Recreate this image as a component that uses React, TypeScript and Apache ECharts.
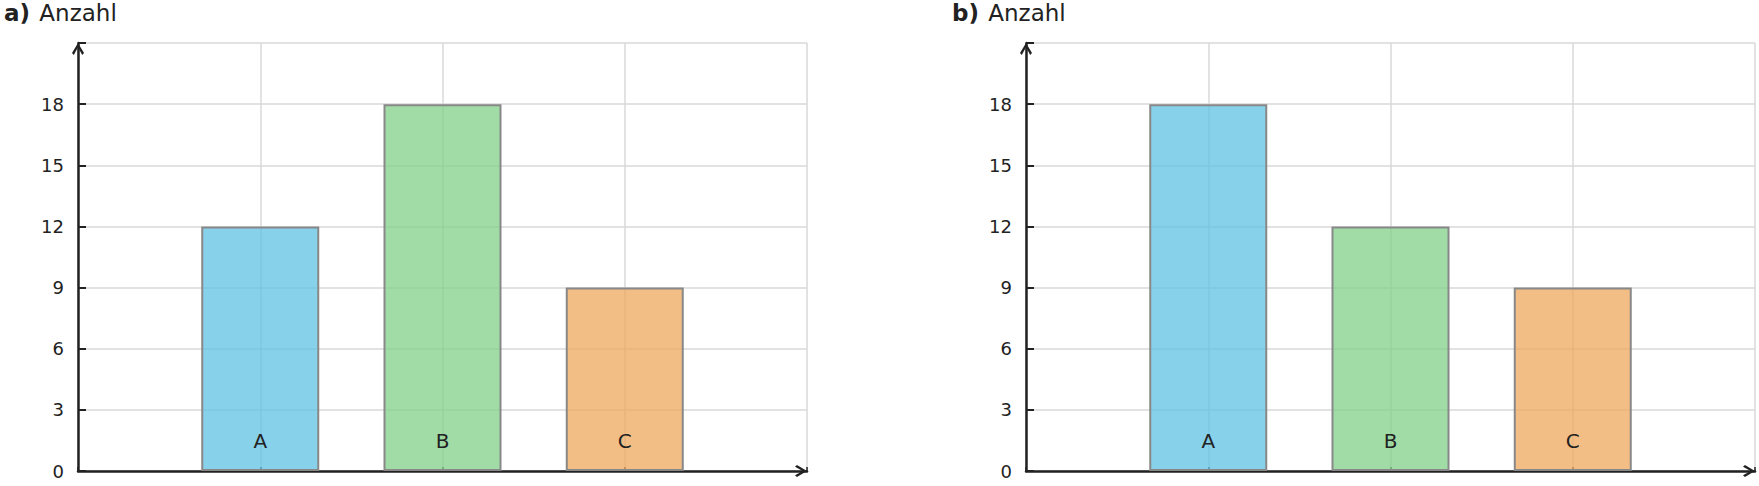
import React, { useEffect, useRef } from "react";
import * as echarts from "echarts";

const categories = ["A", "B", "C"];
const valuesA = [12, 18, 9];
const valuesB = [18, 12, 9];
const barColors = ["rgba(95,194,227,0.75)", "rgba(130,208,136,0.75)", "rgba(239,168,92,0.75)"];
const yTicks = { min: 0, max: 21, interval: 3 };
const panelLabels = ["a)", "b)"];
const yTitle = "Anzahl";

const FONT = "DejaVu Sans";
const DARK = "#222222";
const GRID = "#d8d8d8";
const CHEVRON = "path://M5,0 L10,8.4 L8.5,10 L5,3.6 L1.5,10 L0,8.4 Z";

function App() {
  const ref = useRef<HTMLDivElement>(null);
  useEffect(() => {
    if (!ref.current) return;
    const chart = echarts.init(ref.current, undefined, { renderer: "svg" });
    const grids = [
      { left: 78, top: 43, width: 729, bottom: 15 },
      { left: 1026, top: 43, width: 729, bottom: 15 },
    ];
    const sets = [valuesA, valuesB];
    const axisLine = {
      show: true,
      symbol: ["none", CHEVRON],
      symbolSize: [12, 12],
      symbolOffset: [0, -6],
      lineStyle: { color: DARK, width: 2.5 },
    };
    const xAxis = grids.map((_, i) => ({
      type: "value",
      gridIndex: i,
      min: 0,
      max: categories.length + 1,
      interval: 1,
      axisLine,
      axisTick: { show: true, inside: true, length: 4, lineStyle: { color: DARK, width: 1.5 } },
      axisLabel: { show: false },
      splitLine: { show: true, lineStyle: { color: GRID, width: 1.5 } },
    }));
    const yAxis = grids.map((_, i) => ({
      type: "value",
      gridIndex: i,
      min: yTicks.min,
      max: yTicks.max,
      interval: yTicks.interval,
      axisLine,
      axisTick: { show: true, inside: true, length: 8, lineStyle: { color: DARK, width: 2 } },
      axisLabel: {
        fontFamily: FONT,
        fontSize: 18,
        color: DARK,
        margin: 14,
        formatter: (v: number) => (v === yTicks.max ? "" : String(v)),
      },
      splitLine: { show: true, lineStyle: { color: GRID, width: 1.5 } },
    }));
    const series = sets.map((vals, i) => ({
      type: "bar",
      xAxisIndex: i,
      yAxisIndex: i,
      barWidth: 118,
      data: vals.map((v, j) => ({
        value: [j + 1, v],
        itemStyle: { color: barColors[j] },
      })),
      itemStyle: { borderColor: "#888888", borderWidth: 2 },
      label: {
        show: true,
        position: "insideBottom",
        distance: 20,
        fontFamily: FONT,
        fontSize: 20,
        color: DARK,
        formatter: (p: any) => categories[p.dataIndex],
      },
    }));
    const graphic = grids.map((g, i) => ({
      type: "text",
      left: g.left - 74,
      top: 1,
      style: {
        text: `{b|${panelLabels[i]}} {n|${yTitle}}`,
        font: `23px '${FONT}'`,
        fill: DARK,
        rich: {
          b: { fontFamily: FONT, fontSize: 23, fontWeight: "bold", fill: DARK, padding: [0, 2, 0, 0] },
          n: { fontFamily: FONT, fontSize: 23, fill: DARK },
        },
      },
    }));
    chart.setOption({
      animation: false,
      backgroundColor: "#ffffff",
      textStyle: { fontFamily: FONT },
      grid: grids,
      xAxis,
      yAxis,
      series,
      graphic,
    });
    return () => chart.dispose();
  }, []);
  return (
    <div
      ref={ref}
      style={{ position: "fixed", left: 0, top: 0, width: 1759, height: 486 }}
    />
  );
}

export default App;
